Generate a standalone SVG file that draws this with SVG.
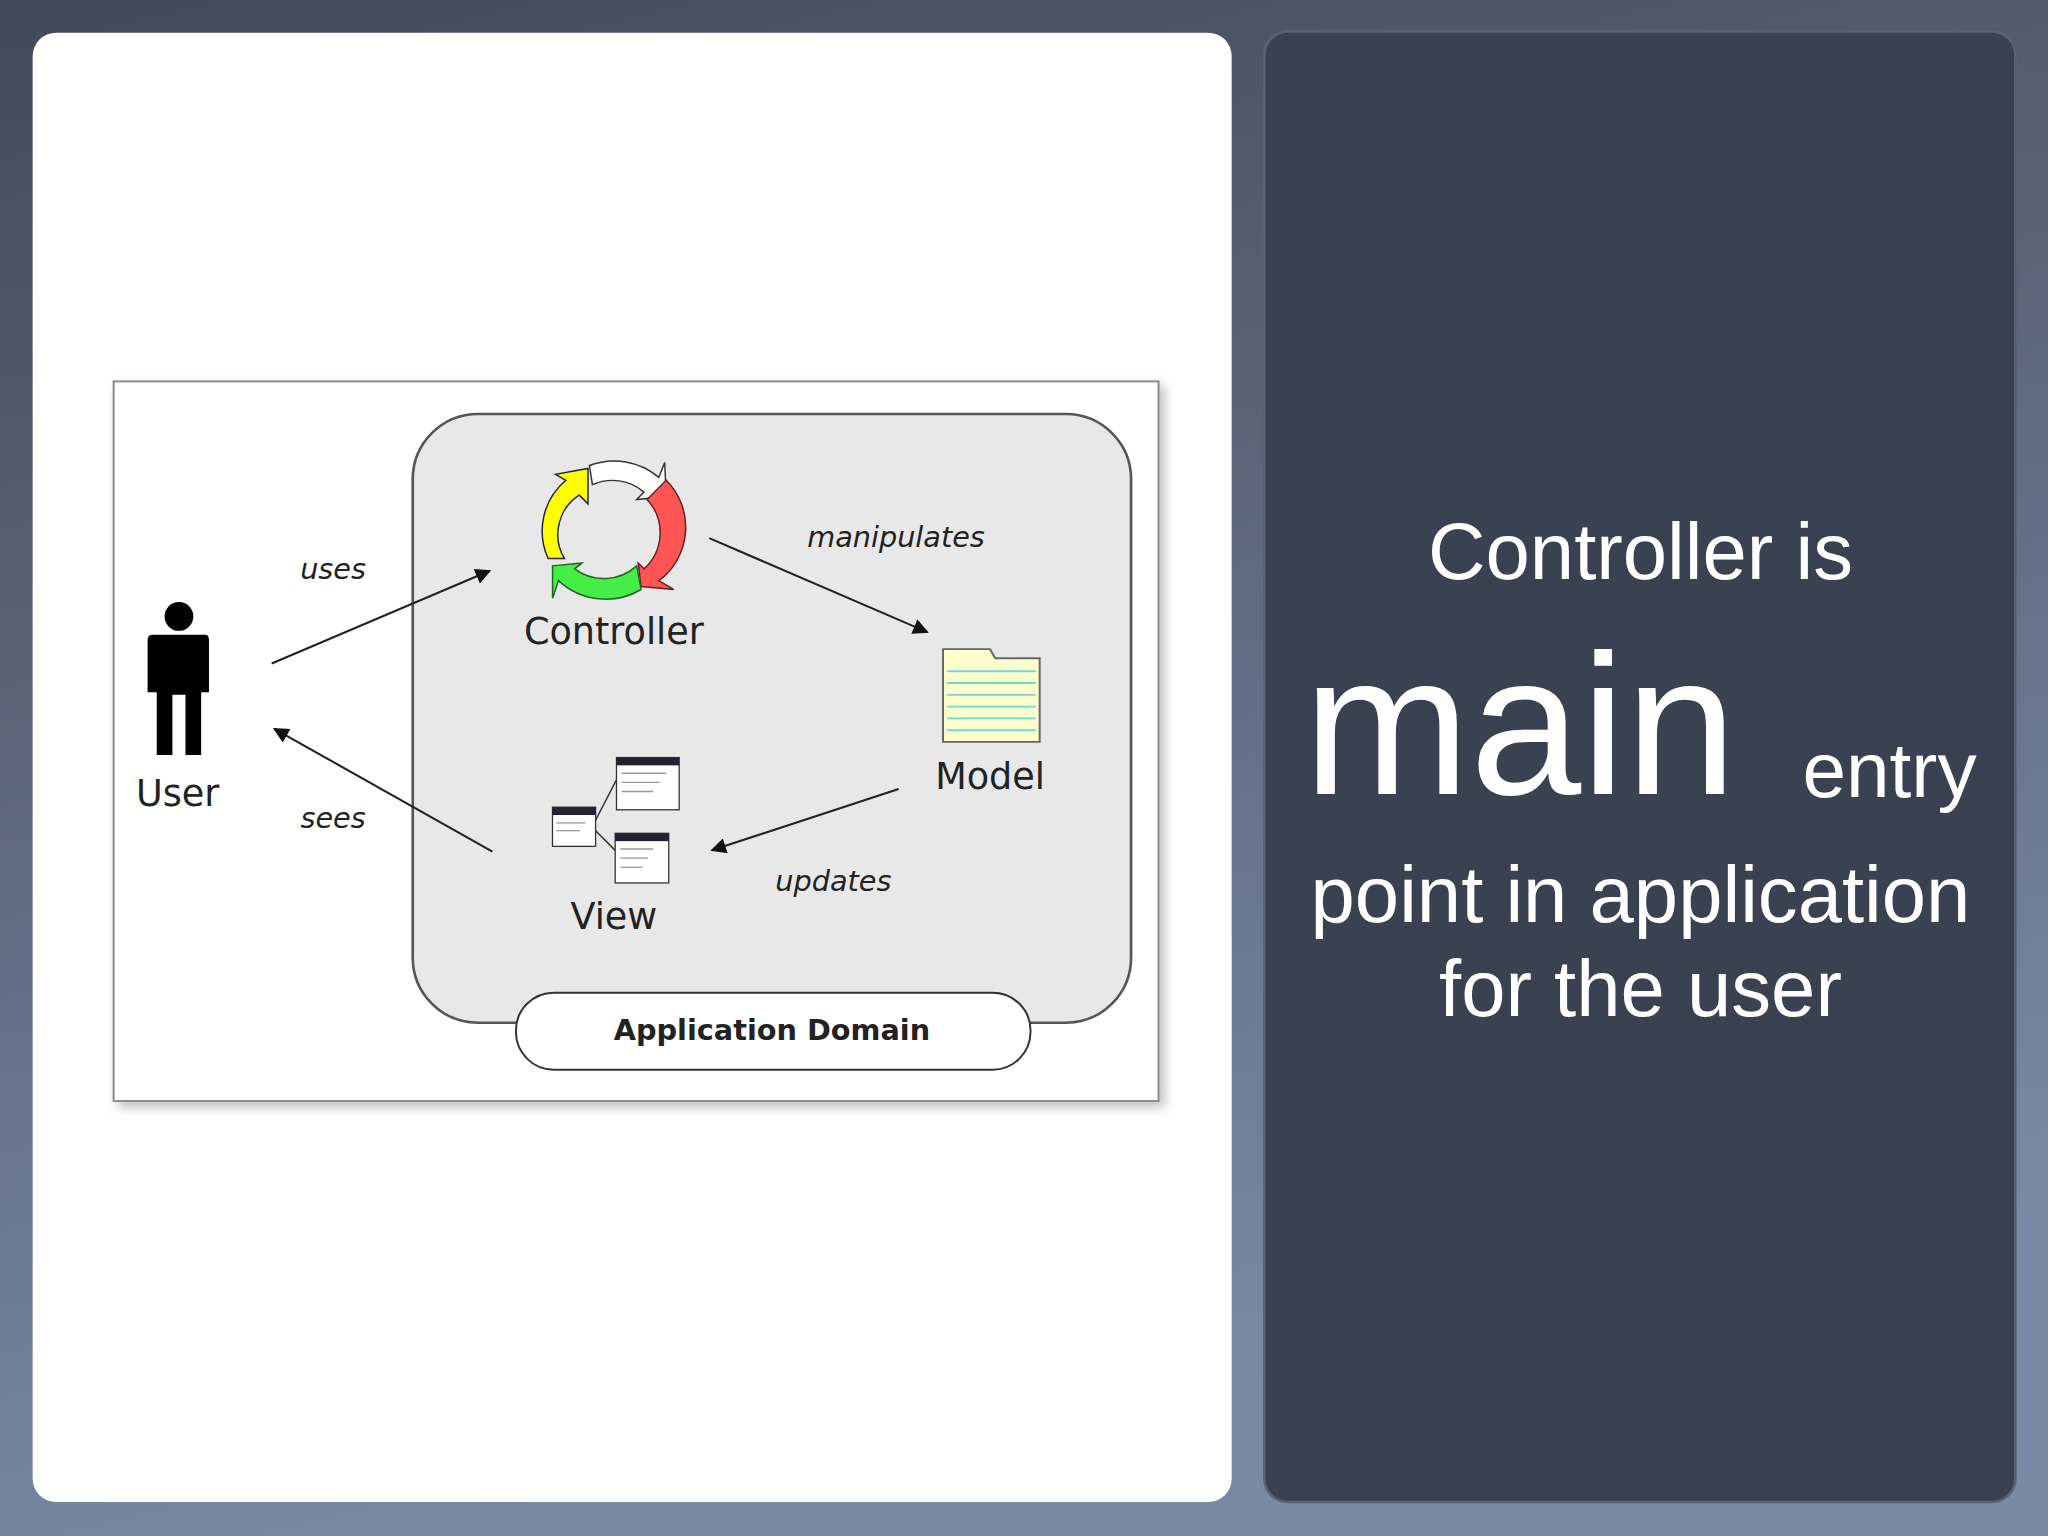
<svg xmlns="http://www.w3.org/2000/svg" width="2048" height="1536" viewBox="0 0 2048 1536">
<defs>
<linearGradient id="bg" x1="0" y1="0" x2="0.3" y2="1"><stop offset="0" stop-color="#424959"/><stop offset="1" stop-color="#7a8aa6"/></linearGradient>
<marker id="ah" viewBox="0 0 10 10" refX="9" refY="5" markerWidth="14" markerHeight="12" orient="auto" markerUnits="userSpaceOnUse"><path d="M0,0 L10,5 L0,10 z" fill="#111"/></marker>
<filter id="sh" x="-5%" y="-5%" width="115%" height="115%"><feDropShadow dx="4" dy="4" stdDeviation="4" flood-color="#000" flood-opacity="0.25"/></filter>
</defs>
<style>
.dg{font-family:"DejaVu Sans",Verdana,sans-serif;fill:#222}
.it{font-style:italic;font-size:22px}
.lb{font-size:28px}
.rt{font-family:"Liberation Sans",Arial,sans-serif;fill:#fff}
.ar{stroke:#222;stroke-width:1.6;fill:none;marker-end:url(#ah)}
</style>
<rect width="2048" height="1536" fill="url(#bg)"/>
<g transform="scale(1.30612)">
<rect x="25" y="25" width="918" height="1125" rx="18" fill="#fff"/>
<rect x="968" y="24" width="575" height="1126" rx="18" fill="#3a4150" stroke="#596172" stroke-width="2"/>
<g id="frame"><rect x="87" y="292" width="800" height="551" fill="#fff" stroke="#888" stroke-width="1.5" filter="url(#sh)"/></g>
<g id="domain">
<rect x="316" y="317" width="550" height="466" rx="50" fill="#e8e8e8" stroke="#555" stroke-width="2"/>
<rect x="395" y="760" width="394" height="59" rx="29" fill="#fff" stroke="#333" stroke-width="1.5"/>
<text x="591" y="796" text-anchor="middle" class="dg" font-size="22" font-weight="600">Application Domain</text>
</g>
<g id="user">
<circle cx="137" cy="472" r="11" fill="#000"/>
<path d="M117,486 H157 Q160,486 160,490 V530 H154 V578 H142 V532 H132 V578 H120 V530 H113 V490 Q113,486 117,486 z" fill="#000"/>
<text x="136" y="617" text-anchor="middle" class="dg lb">User</text>
</g>
<g id="controller" transform="translate(466,405) scale(1.13) translate(-466,-405)">
<path d="M425,425 A45,45 0 0 1 437,372 L430,368 L452,364 L452,388 L446,382 A32,32 0 0 0 436,425 z" fill="#ffff00" stroke="#224" stroke-width="1"/>
<path d="M453,362 A47,47 0 0 1 500,370 L504,360 L505,383 L485,385 L490,380 A33,33 0 0 0 455,375 z" fill="#fff" stroke="#333" stroke-width="1"/>
<path d="M505,372 A45,45 0 0 1 500,440 L510,446 L488,444 L486,428 L490,432 A33,33 0 0 0 492,385 z" fill="#ff5555" stroke="#622" stroke-width="1"/>
<path d="M488,446 A47,47 0 0 1 432,440 L428,452 L428,430 L448,428 L443,432 A33,33 0 0 0 485,430 z" fill="#44ee44" stroke="#262" stroke-width="1"/>
</g>
<text x="470" y="493" text-anchor="middle" class="dg lb">Controller</text>
<g id="model">
<path d="M722,497 H758 L762,504 H796 V568 H722 z" fill="#ffffcc" stroke="#666" stroke-width="1.5"/>
<g stroke="#66dddd" stroke-width="1.5"><line x1="725" y1="514" x2="793" y2="514"/><line x1="725" y1="523" x2="793" y2="523"/><line x1="725" y1="532" x2="793" y2="532"/><line x1="725" y1="541" x2="793" y2="541"/><line x1="725" y1="550" x2="793" y2="550"/><line x1="725" y1="559" x2="793" y2="559"/></g>
<text x="758" y="604" text-anchor="middle" class="dg lb">Model</text>
</g>
<g id="view">
<line x1="456" y1="628" x2="472" y2="597" stroke="#333" stroke-width="1.2"/>
<line x1="456" y1="636" x2="472" y2="652" stroke="#333" stroke-width="1.2"/>
<rect x="472" y="580" width="48" height="40" fill="#fff" stroke="#333"/><rect x="472" y="580" width="48" height="6" fill="#223"/>
<g stroke="#999"><line x1="476" y1="592" x2="510" y2="592"/><line x1="476" y1="599" x2="505" y2="599"/><line x1="476" y1="606" x2="500" y2="606"/></g>
<rect x="471" y="638" width="41" height="38" fill="#fff" stroke="#333"/><rect x="471" y="638" width="41" height="6" fill="#223"/>
<g stroke="#999"><line x1="475" y1="650" x2="500" y2="650"/><line x1="475" y1="657" x2="496" y2="657"/><line x1="475" y1="664" x2="492" y2="664"/></g>
<rect x="423" y="618" width="33" height="30" fill="#fff" stroke="#333"/><rect x="423" y="618" width="33" height="6" fill="#223"/>
<g stroke="#999"><line x1="426" y1="630" x2="448" y2="630"/><line x1="426" y1="636" x2="444" y2="636"/></g>
<text x="470" y="711" text-anchor="middle" class="dg lb">View</text>
</g>
<g id="connectors">
<line x1="208" y1="508" x2="375" y2="437" class="ar"/>
<line x1="543" y1="412" x2="710" y2="484" class="ar"/>
<line x1="688" y1="604" x2="545" y2="651" class="ar"/>
<line x1="377" y1="652" x2="210" y2="558" class="ar"/>
<text x="255" y="443" text-anchor="middle" class="dg it">uses</text>
<text x="686" y="419" text-anchor="middle" class="dg it">manipulates</text>
<text x="638" y="682" text-anchor="middle" class="dg it">updates</text>
<text x="255" y="634" text-anchor="middle" class="dg it">sees</text>
</g>
<g id="caption">
<text x="1256" y="443" text-anchor="middle" class="rt" font-size="61">Controller is</text>
<text x="998" y="608" class="rt" font-size="153">main</text>
<text x="1380" y="610" class="rt" font-size="60">entry</text>
<text x="1256" y="706" text-anchor="middle" class="rt" font-size="61">point in application</text>
<text x="1256" y="778" text-anchor="middle" class="rt" font-size="61">for the user</text>
</g>
</g>
</svg>
